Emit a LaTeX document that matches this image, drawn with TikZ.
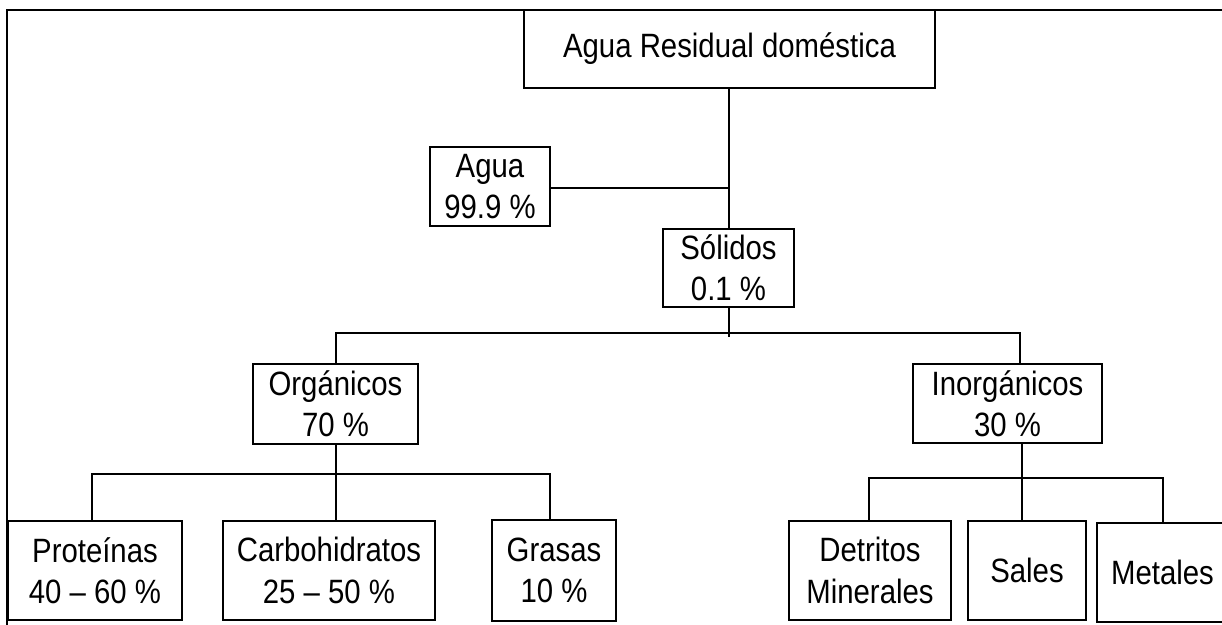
\documentclass[tikz,border=0pt]{standalone}
\usepackage{fontspec}
\setmainfont{Liberation Sans}[FakeStretch=0.87]
\usetikzlibrary{calc}
\begin{document}
\begin{tikzpicture}[x=0.75pt,y=-0.75pt,line width=1.1pt,
  bx/.style={draw,line width=1.1pt,inner sep=0pt,align=center,
    font=\fontsize{25.3}{31}\selectfont},
  ln/.style={line width=1.1pt}]
\clip (0,0) rectangle (1222,625);
\fill[white] (0,0) rectangle (1222,625);
% frame
\draw[ln] (7,625) -- (7,10) -- (1222,10);
% boxes
\node[bx,minimum width=308.25pt,minimum height=58.5pt] (top) at (729.5,49) {Agua Residual doméstica};
\node[bx,minimum width=90pt,minimum height=59.25pt] (agua) at (490,186.5) {Agua\\99.9 \%};
\node[bx,minimum width=98.25pt,minimum height=58.5pt] (solidos) at (728.5,268) {Sólidos\\0.1 \%};
\node[bx,minimum width=123.75pt,minimum height=60pt] (organicos) at (335.5,404) {Orgánicos\\70 \%};
\node[bx,minimum width=141.75pt,minimum height=59.25pt] (inorganicos) at (1007.5,403.5) {Inorgánicos\\30 \%};
\node[bx,minimum width=130.5pt,minimum height=74.25pt] (proteinas) at (95,570.5) {Proteínas\\40 – 60 \%};
\node[bx,minimum width=159pt,minimum height=74.25pt] (carbo) at (329,570.5) {Carbohidratos\\25 – 50 \%};
\node[bx,minimum width=93pt,minimum height=75.75pt] (grasas) at (554,570.5) {Grasas\\10 \%};
\node[bx,minimum width=121.5pt,minimum height=74.25pt] (detritos) at (870,570.5) {Detritos\\Minerales};
\node[bx,minimum width=88.5pt,minimum height=74.25pt] (sales) at (1027,570.5) {Sales};
\node[bx,minimum width=98.25pt,minimum height=74.25pt] (metales) at (1162.5,572.5) {Metales};
% junctions
\coordinate (jA) at (729,188);
\coordinate (jS) at (729,333);
\coordinate (jSend) at (729,337);
\coordinate (jL) at (336,333);
\coordinate (jR) at (1020,333);
\coordinate (jO) at (336,474);
\coordinate (jI) at (1022,478);
% connectors
\draw[ln] (top.south -| jA) -- (solidos.north -| jA);
\draw[ln] (agua.east |- jA) -- (jA);
\draw[ln] (solidos.south -| jS) -- (jSend);
\draw[ln] (organicos.north -| jL) -- (jL) -- (jR) -- (inorganicos.north -| jR);
\draw[ln] (organicos.south -| jO) -- (jO);
\draw[ln] (proteinas.north -| 92,0) |- (jO) -| (grasas.north -| 550,0);
\draw[ln] (jO) -- (carbo.north -| jO);
\draw[ln] (inorganicos.south -| jI) -- (jI);
\draw[ln] (detritos.north -| 869,0) |- (jI) -| (metales.north -| 1163,0);
\draw[ln] (jI) -- (sales.north -| jI);
\end{tikzpicture}
\end{document}
